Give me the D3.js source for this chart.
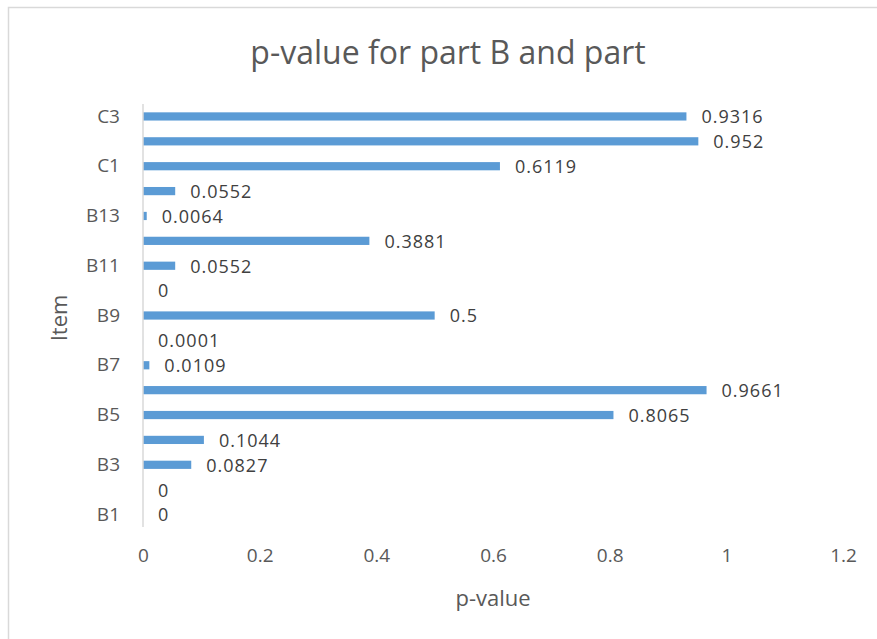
<!DOCTYPE html>
<html>
<head>
<meta charset="utf-8">
<script src="https://cdn.jsdelivr.net/npm/d3@7"></script>
<style>
  body { margin: 0; background: #fff; }
  text { font-family: "Open Sans", sans-serif; }
</style>
</head>
<body>
<div id="chart"></div>
<script>
// items bottom to top, as the chart lists them
var items = ['B1','B2','B3','B4','B5','B6','B7','B8','B9','B10','B11','B12','B13','B14','C1','C2','C3'];
var pvalues = [0, 0, 0.0827, 0.1044, 0.8065, 0.9661, 0.0109, 0.0001, 0.5, 0, 0.0552, 0.3881, 0.0064, 0.0552, 0.6119, 0.952, 0.9316];
var shown_items = ['B1','B3','B5','B7','B9','B11','B13','C1','C3'];
var x_ticks = [0, 0.2, 0.4, 0.6, 0.8, 1, 1.2];

var data = items.map((d,i)=>({item:d, p:pvalues[i]}));

var W = 877, H = 639;
var Margin = {top: 104, right: 34, bottom: 112, left: 143};
var InnerWidth = W - Margin.left - Margin.right;
var InnerHeight = H - Margin.top - Margin.bottom;

var svg = d3.select("#chart").append("svg")
            .attr("width", W)
            .attr("height", H);

// chart frame (only top and left edges fall inside the picture)
svg.append("rect")
   .attr("x", 8.5).attr("y", 7.5)
   .attr("width", 1000).attr("height", 1000)
   .attr("fill", "none")
   .attr("stroke", "#d9d9d9")
   .attr("stroke-width", 1.5);

svg.append("text")
   .attr("x", 448).attr("y", 64)
   .attr("text-anchor", "middle")
   .style("font-size", "32px")
   .style("fill", "#595959")
   .text("p-value for part B and part");

var g = svg.append("g")
           .attr("transform", "translate(" + Margin.left + "," + Margin.top + ")");

var x = d3.scaleLinear().domain([0, 1.2]).range([0, InnerWidth]);
var y = d3.scaleBand().domain(items.slice().reverse()).range([0, InnerHeight]).paddingInner(0.67).paddingOuter(0.335);

g.selectAll("rect.bar").data(data)
 .enter().append("rect")
 .attr("class", "bar")
 .attr("x", 0)
 .attr("y", d=>y(d.item))
 .attr("width", d=>x(d.p))
 .attr("height", y.bandwidth())
 .attr("fill", "#5b9bd5");

g.selectAll("text.lbl").data(data)
 .enter().append("text")
 .attr("class", "lbl")
 .attr("x", d=>x(d.p) + 15)
 .attr("y", d=>y(d.item) + y.bandwidth()/2)
 .attr("dy", "0.38em")
 .style("font-size", "18px")
 .style("letter-spacing", "1px")
 .style("fill", "#404040")
 .text(d=>d.p);

// x axis: labels only
var xa = g.append("g").attr("transform", `translate(0, ${InnerHeight})`)
          .call(d3.axisBottom(x).tickValues(x_ticks).tickFormat(d3.format("")).tickSize(0).tickPadding(22));
xa.select(".domain").remove();
xa.selectAll("text").style("font-size", "19px").style("fill", "#595959").style("font-family", "Open Sans, sans-serif");

// y axis
var ya = g.append("g")
          .call(d3.axisLeft(y).tickValues(shown_items).tickSize(0).tickPadding(23));
ya.select(".domain").remove();
ya.selectAll("text").style("font-size", "19px").style("fill", "#595959").style("font-family", "Open Sans, sans-serif");

g.append("line")
 .attr("x1", 0).attr("x2", 0)
 .attr("y1", 0).attr("y2", InnerHeight)
 .attr("stroke", "#d9d9d9")
 .attr("stroke-width", 1.5);

svg.append("text")
   .attr("x", Margin.left + x(0.6)).attr("y", 606)
   .attr("text-anchor", "middle")
   .style("font-size", "22px")
   .style("fill", "#595959")
   .text("p-value");

svg.append("text")
   .attr("transform", "translate(67,318) rotate(-90)")
   .attr("text-anchor", "middle")
   .style("font-size", "22px")
   .style("fill", "#595959")
   .text("Item");
</script>
</body>
</html>
